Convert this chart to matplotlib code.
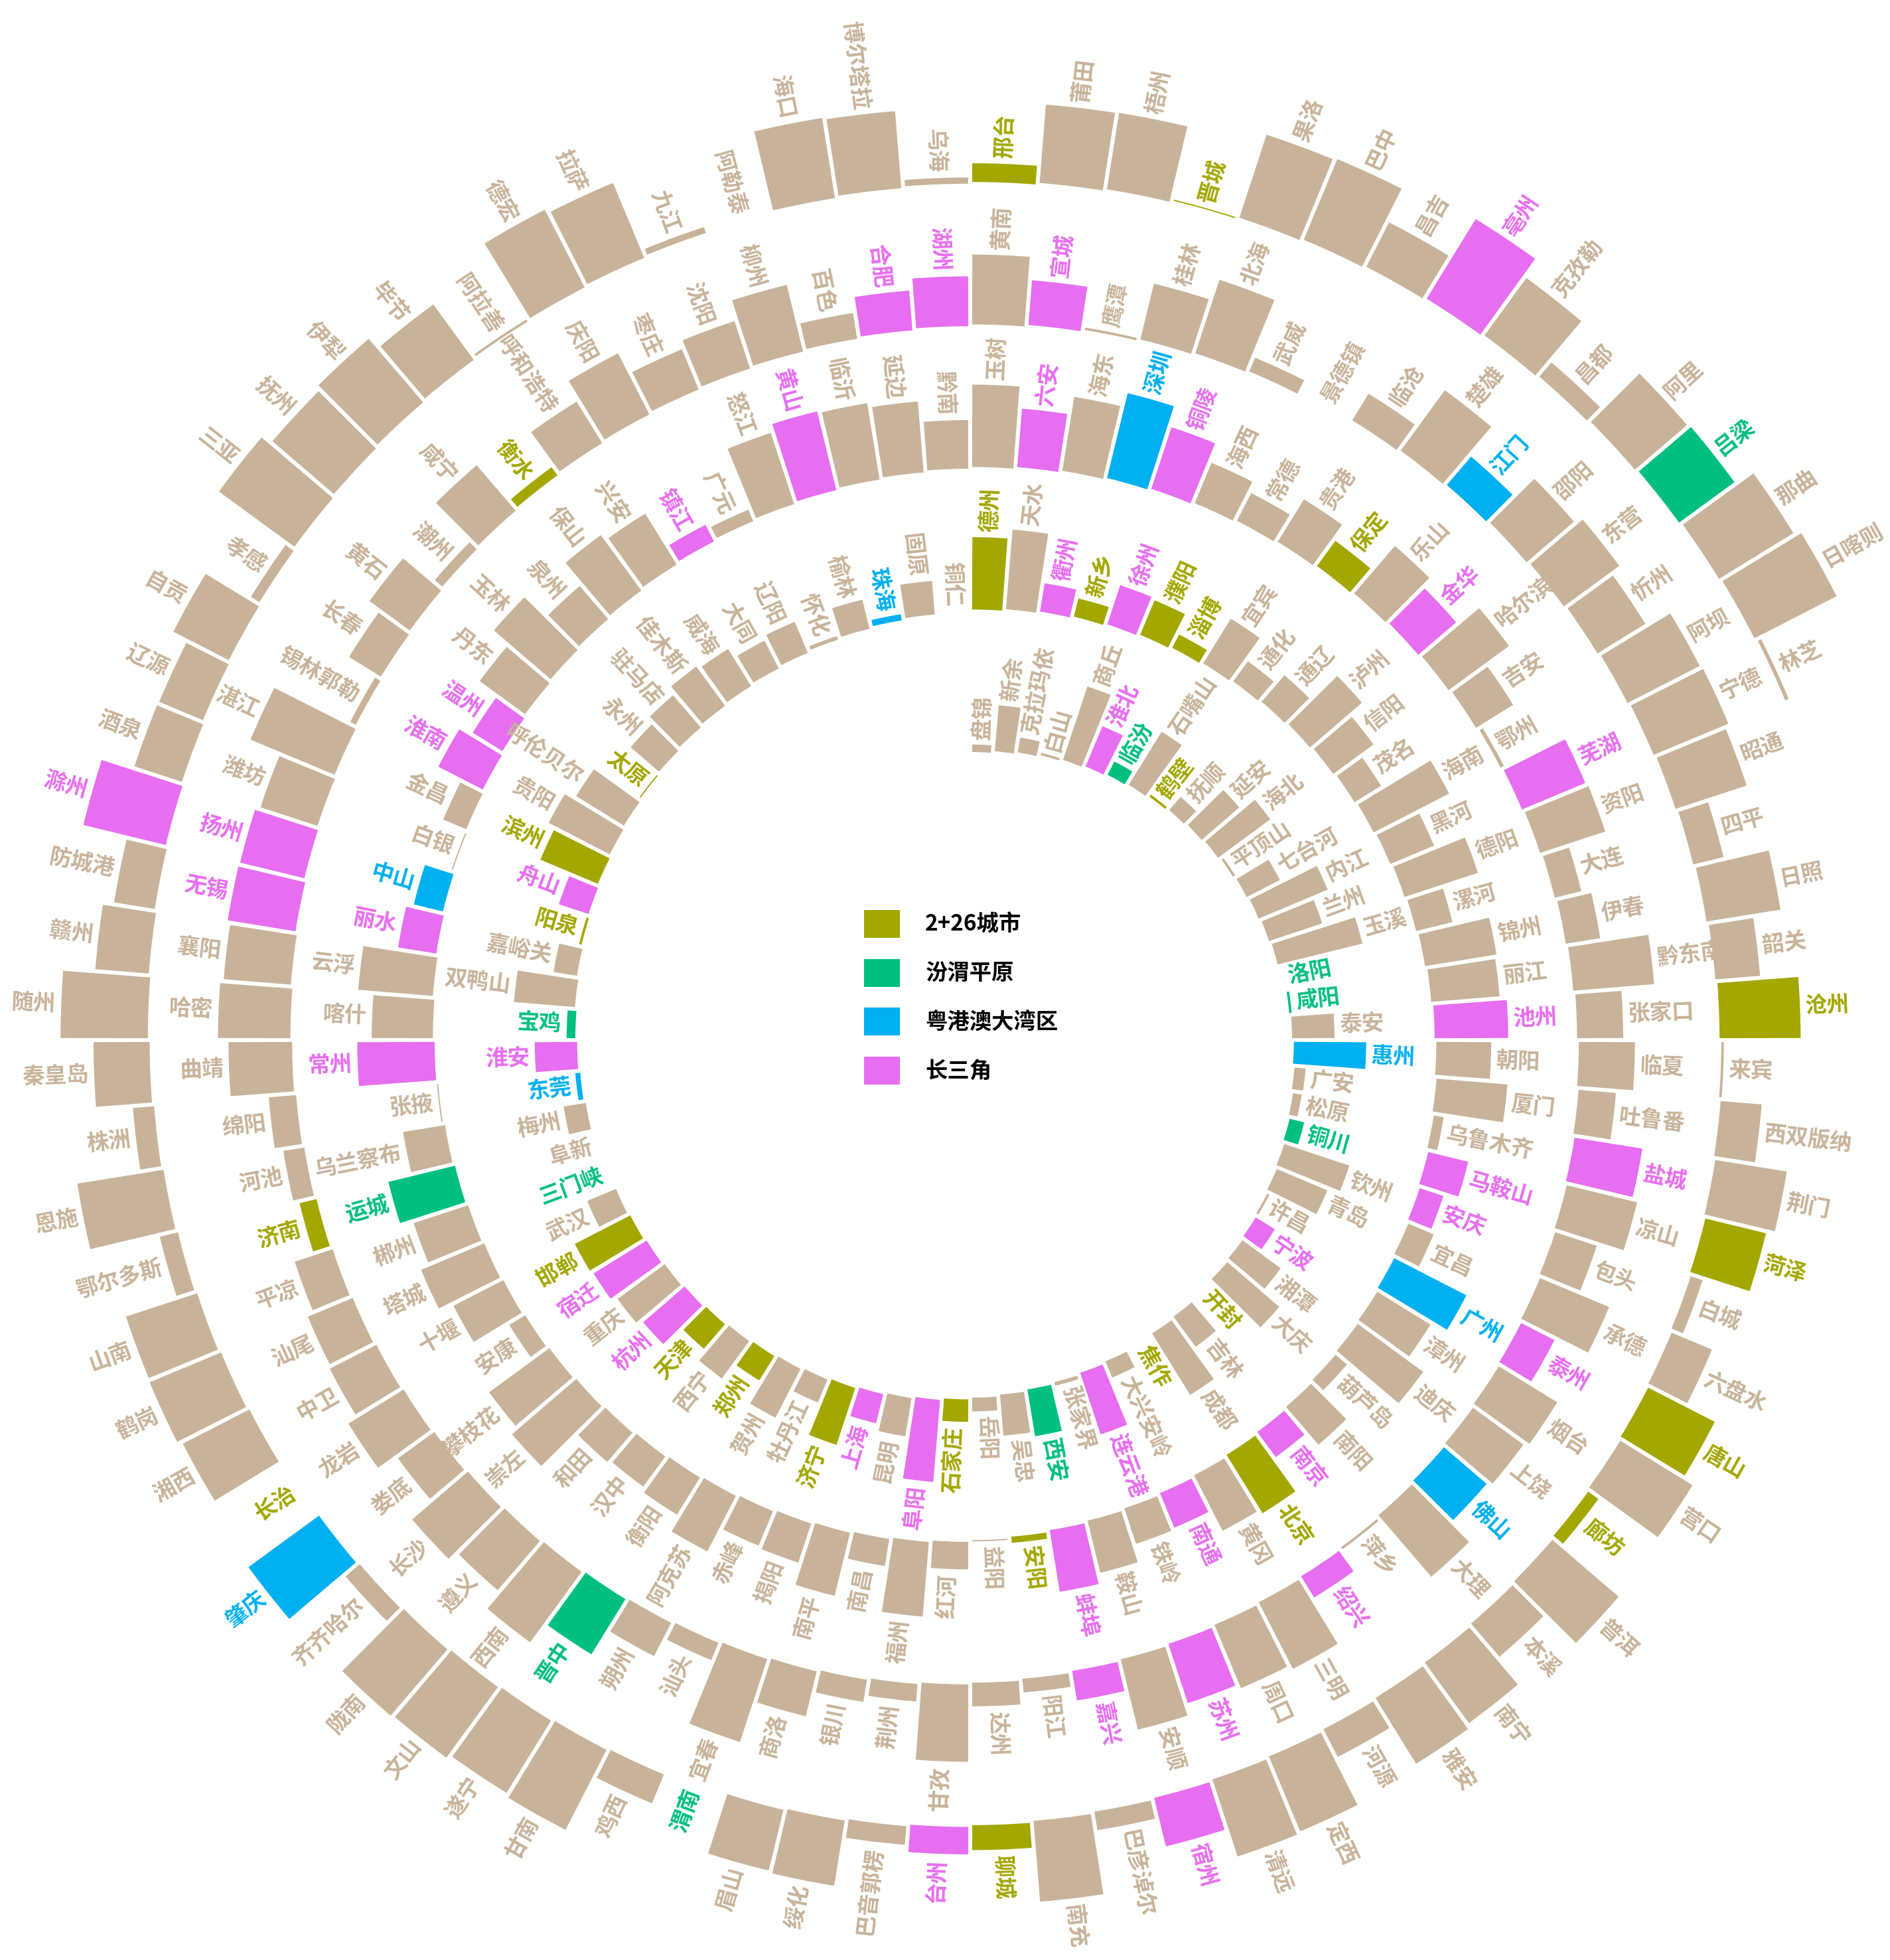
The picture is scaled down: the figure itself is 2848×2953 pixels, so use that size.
import numpy as np
import matplotlib
matplotlib.use("Agg")
import matplotlib.pyplot as plt
from matplotlib.patches import Patch

plt.rcParams["font.family"] = ["Noto Sans CJK SC", "DejaVu Sans"]

# cities along the spiral, from the centre outwards (clockwise from 12 o'clock)
ring1_cities = ["盘锦", "新余", "克拉玛依", "白山", "商丘", "淮北", "临汾", "石嘴山", "鹤壁", "抚顺",
                "延安", "海北", "平顶山", "七台河", "内江", "兰州", "玉溪", "洛阳", "咸阳", "泰安",
                "惠州", "广安", "松原", "铜川", "钦州", "青岛", "许昌", "宁波", "湘潭", "大庆",
                "开封", "吉林", "成都", "焦作", "大兴安岭", "连云港", "张家界", "西安", "吴忠", "岳阳",
                "石家庄", "阜阳", "昆明", "上海", "济宁", "牡丹江", "贺州", "郑州", "西宁", "天津",
                "杭州", "重庆", "宿迁", "邯郸", "武汉", "三门峡", "阜新", "梅州", "东莞", "淮安",
                "宝鸡", "双鸭山", "嘉峪关", "阳泉", "舟山", "滨州", "贵阳", "呼伦贝尔", "太原", "永州",
                "驻马店", "佳木斯", "威海", "大同", "辽阳", "怀化", "榆林", "珠海", "固原", "铜仁"]
ring1_values = [6, 37, 12, 2, 62, 35, 12, 50, 2, 14,
                40, 52, 2, 30, 60, 45, 70, 0, 2, 34,
                58, 9, 7, 12, 55, 44, 2, 18, 38, 55,
                0, 30, 58, 0, 14, 52, 3, 38, 33, 11,
                18, 66, 31, 24, 48, 20, 44, 23, 37, 26,
                44, 47, 50, 50, 25, 0, 0, 18, 4, 34,
                7, 49, 19, 2, 25, 50, 55, 45, 1, 30,
                34, 39, 35, 25, 27, 3, 24, 5, 27, 0]

ring2_cities = ["德州", "天水", "衢州", "新乡", "徐州", "濮阳", "淄博", "宜宾", "通化", "通辽",
                "泸州", "信阳", "茂名", "海南", "黑河", "德阳", "漯河", "锦州", "丽江", "池州",
                "朝阳", "厦门", "乌鲁木齐", "马鞍山", "安庆", "宜昌", "广州", "漳州", "迪庆", "葫芦岛",
                "南阳", "南京", "北京", "黄冈", "南通", "铁岭", "鞍山", "蚌埠", "安阳", "益阳",
                "红河", "福州", "南昌", "南平", "揭阳", "赤峰", "阿克苏", "衡阳", "汉中", "和田",
                "崇左", "攀枝花", "安康", "十堰", "塔城", "郴州", "运城", "乌兰察布", "张掖", "常州",
                "喀什", "云浮", "丽水", "中山", "白银", "金昌", "淮南", "温州", "丹东", "玉林",
                "泉州", "保山", "兴安", "镇江", "广元", "怒江", "黄山", "临沂", "延边", "黔南"]
ring2_values = [58, 64, 23, 15, 33, 30, 12, 42, 20, 28,
                55, 40, 25, 68, 38, 62, 30, 58, 55, 59,
                44, 57, 8, 33, 20, 22, 65, 50, 65, 12,
                40, 25, 55, 50, 30, 30, 43, 50, 5, 1,
                22, 60, 22, 52, 33, 30, 50, 35, 30, 31,
                68, 60, 15, 45, 55, 46, 55, 34, 1, 62,
                49, 60, 31, 24, 1, 20, 40, 28, 45, 60,
                35, 55, 48, 15, 10, 60, 65, 62, 57, 39]

ring3_cities = ["玉树", "六安", "海东", "深圳", "铜陵", "海西", "常德", "贵港", "保定", "乐山",
                "金华", "哈尔滨", "吉安", "鄂州", "芜湖", "资阳", "大连", "伊春", "黔东南", "张家口",
                "临夏", "吐鲁番", "盐城", "凉山", "包头", "承德", "泰州", "烟台", "上饶", "佛山",
                "大理", "萍乡", "绍兴", "三明", "周口", "苏州", "安顺", "嘉兴", "阳江", "达州",
                "甘孜", "荆州", "银川", "商洛", "宜春", "汕头", "朔州", "晋中", "西南", "遵义",
                "长沙", "娄底", "龙岩", "中卫", "汕尾", "平凉", "济南", "河池", "绵阳", "曲靖",
                "哈密", "襄阳", "无锡", "扬州", "潍坊", "湛江", "锡林郭勒", "长春", "黄石", "潮州",
                "咸宁", "衡水", "呼和浩特", "庆阳", "枣庄", "沈阳", "柳州", "百色", "合肥", "湖州"]
ring3_values = [66, 47, 60, 70, 52, 35, 25, 40, 25, 50,
                40, 60, 35, 3, 55, 55, 22, 28, 65, 37,
                45, 30, 55, 58, 35, 60, 30, 55, 50, 45,
                65, 2, 20, 60, 55, 50, 58, 24, 11, 19,
                62, 14, 18, 37, 70, 15, 30, 52, 70, 52,
                59, 36, 52, 42, 39, 32, 14, 17, 22, 51,
                58, 54, 55, 53, 48, 73, 5, 30, 40, 8,
                48, 8, 39, 55, 35, 40, 55, 21, 32, 40]

ring4_cities = ["黄南", "宣城", "鹰潭", "桂林", "北海", "武威", "景德镇", "临沧", "楚雄", "江门",
                "邵阳", "东营", "忻州", "阿坝", "宁德", "昭通", "四平", "日照", "韶关", "沧州",
                "来宾", "西双版纳", "荆门", "菏泽", "白城", "六盘水", "唐山", "营口", "廊坊", "普洱",
                "本溪", "南宁", "雅安", "河源", "定西", "清远", "宿州", "巴彦淖尔", "南充", "聊城",
                "台州", "巴音郭楞", "绥化", "眉山", "渭南", "鸡西", "甘南", "遂宁", "文山", "陇南",
                "齐齐哈尔", "肇庆", "长治", "湘西", "鹤岗", "山南", "鄂尔多斯", "恩施", "株洲", "秦皇岛",
                "随州", "赣州", "防城港", "滁州", "酒泉", "辽源", "自贡", "孝感", "三亚", "抚州",
                "伊犁", "毕节", "阿拉善", "德宏", "拉萨", "九江", "阿勒泰", "海口", "博尔塔拉", "乌海",
                "邢台", "莆田", "梧州", "晋城", "果洛", "巴中", "昌吉", "亳州", "克孜勒", "昌都",
                "阿里", "吕梁", "那曲", "日喀则", "林芝"]
ring4_values = [56, 36, 2, 46, 62, 12, 0, 25, 60, 30,
                50, 55, 45, 65, 65, 60, 25, 60, 36, 65,
                2, 33, 58, 50, 10, 35, 60, 68, 10, 70,
                35, 60, 62, 25, 65, 65, 40, 15, 65, 20,
                22, 15, 53, 50, 0, 25, 72, 68, 70, 70,
                15, 70, 0, 60, 62, 60, 15, 70, 17, 45,
                70, 43, 33, 68, 40, 38, 50, 8, 75, 65,
                67, 55, 2, 70, 65, 5, 0, 65, 62, 5,
                15, 63, 62, 1, 70, 70, 40, 75, 57, 15,
                55, 55, 70, 74, 3]

# regional groups
group_names = ["2+26城市", "汾渭平原", "粤港澳大湾区", "长三角"]
jjj_cities = ["北京", "天津", "石家庄", "唐山", "廊坊", "保定", "沧州", "衡水", "邢台", "邯郸",
              "太原", "阳泉", "长治", "晋城", "济南", "淄博", "济宁", "德州", "聊城", "滨州",
              "菏泽", "郑州", "开封", "安阳", "鹤壁", "新乡", "焦作", "濮阳"]
fenwei_cities = ["晋中", "运城", "临汾", "吕梁", "洛阳", "三门峡", "西安", "铜川", "宝鸡", "咸阳", "渭南"]
gba_cities = ["广州", "深圳", "珠海", "佛山", "惠州", "东莞", "中山", "江门", "肇庆"]
yrd_cities = ["上海", "南京", "无锡", "徐州", "常州", "苏州", "南通", "连云港", "淮安", "盐城",
              "扬州", "镇江", "泰州", "宿迁", "杭州", "宁波", "温州", "嘉兴", "湖州", "绍兴",
              "金华", "衢州", "舟山", "台州", "丽水", "合肥", "淮北", "亳州", "宿州", "蚌埠",
              "阜阳", "淮南", "滁州", "六安", "马鞍山", "芜湖", "宣城", "铜陵", "池州", "安庆", "黄山"]
group_colors = ["#a3a700", "#00bf7f", "#00b0f0", "#e76ef0"]
other_color = "#c8b39a"

cities = ring1_cities + ring2_cities + ring3_cities + ring4_cities
values = np.array(ring1_values + ring2_values + ring3_values + ring4_values, dtype=float)


def city_color(name):
    for members, col in zip([jjj_cities, fenwei_cities, gba_cities, yrd_cities], group_colors):
        if name in members:
            return col
    return other_color


colors = [city_color(c) for c in cities]

# layout (pixels)
W, H, DPI = 2848, 2953, 100
cx, cy = 1462, 1567          # spiral centre
R = 1600                     # radial extent of the axes
step = 4.5                   # degrees per city
r_start = 434                # spiral radius at the first city
r_growth = 2.684             # radius gained per city
unit = 1.88                  # pixels per value unit
gap = 6

fig = plt.figure(figsize=(W / DPI, H / DPI), dpi=DPI)
ax = fig.add_axes([(cx - R) / W, (H - cy - R) / H, 2 * R / W, 2 * R / H], projection="polar")
ax.set_theta_zero_location("N")
ax.set_theta_direction(-1)
ax.set_ylim(0, R)
ax.axis("off")

idx = np.arange(len(cities))
theta_deg = (idx + 0.5) * step
theta = np.deg2rad(theta_deg)
base = r_start + r_growth * idx
heights = values * unit
widths = np.deg2rad(step) - gap / (base + heights / 2)

ax.bar(theta, heights, width=widths, bottom=base, color=colors, linewidth=0, align="center")

for i, name in enumerate(cities):
    t = theta_deg[i] % 360
    if t < 180:
        rot, ha = 90 - t, "left"
    else:
        rot, ha = 270 - t, "right"
    ax.text(theta[i], base[i] + heights[i] + 8, name, rotation=rot, rotation_mode="anchor",
            ha=ha, va="center", fontsize=24, fontweight="bold", color=colors[i], clip_on=False)

handles = [Patch(facecolor=c, edgecolor="none") for c in group_colors]
fig.legend(handles, group_names, loc="upper left", bbox_to_anchor=(1302 / W, 1 - 1371 / H),
           frameon=False, prop={"size": 24, "weight": "bold"}, handlelength=1.62, handleheight=1.56,
           handletextpad=1.15, labelspacing=0.95, borderpad=0, borderaxespad=0)

fig.savefig("out.png", dpi=DPI, facecolor="white")
